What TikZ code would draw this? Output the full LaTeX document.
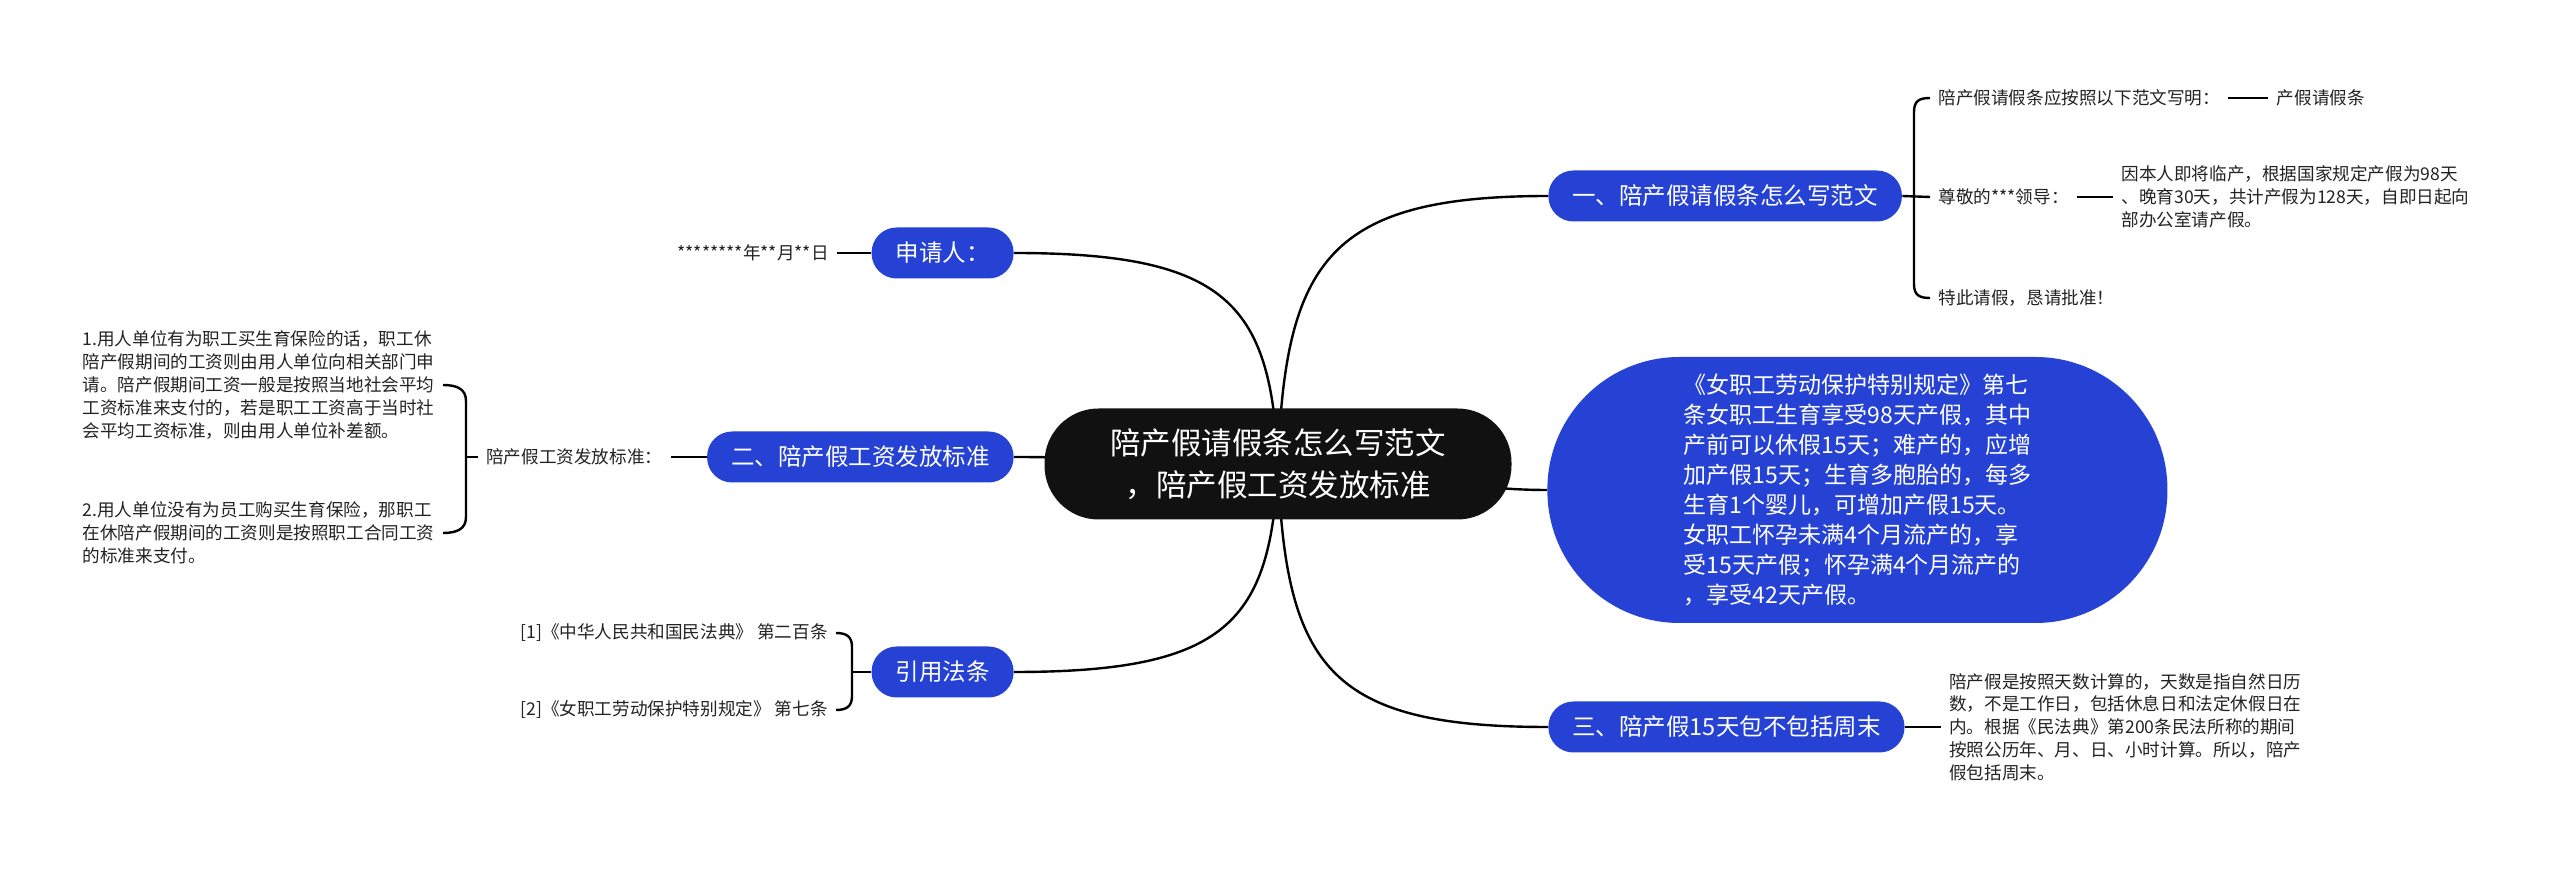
\documentclass[tikz,border=0pt]{standalone}
\usepackage{fontspec}
\setmainfont{Noto Sans CJK SC}
\usepackage{tikz}
\usetikzlibrary{backgrounds,positioning}
\definecolor{mapblue}{RGB}{38,66,212}
\definecolor{rootblack}{RGB}{17,17,17}
\definecolor{leafgray}{RGB}{34,34,34}

\begin{document}
\begin{tikzpicture}[x=0.5pt,y=0.5pt]
  \tikzstyle{root}=[fill=rootblack,text=white,rounded corners=27pt,minimum width=233.5pt,minimum height=55.5pt,align=center,font=\fontsize{15.25pt}{21pt}\selectfont]
  \tikzstyle{topic}=[fill=mapblue,text=white,rounded corners=12.5pt,minimum height=25.5pt,inner xsep=12pt,font=\fontsize{11.75pt}{14pt}\selectfont]
  \tikzstyle{big topic}=[topic,minimum width=310pt,minimum height=133pt,rounded corners=66pt,align=left,font=\fontsize{11.5pt}{15pt}\selectfont]
  \tikzstyle{leaf}=[text=leafgray,inner xsep=4pt,inner ysep=2pt,align=left,font=\fontsize{8.8pt}{11.4pt}\selectfont]
  \tikzstyle{link}=[draw=black,line width=1.2pt]

  \useasboundingbox (0,0) rectangle (2560,-870);

  \node[root] (root) at (1278,-464) {陪产假请假条怎么写范文\\，陪产假工资发放标准};

  \node[topic,anchor=west] (write) at (1548,-196) {一、陪产假请假条怎么写范文};
  \node[big topic,anchor=west] (rule) at (1547,-490) {《女职工劳动保护特别规定》第七\\条女职工生育享受98天产假，其中\\产前可以休假15天；难产的，应增\\加产假15天；生育多胞胎的，每多\\生育1个婴儿，可增加产假15天。\\女职工怀孕未满4个月流产的，享\\受15天产假；怀孕满4个月流产的\\，享受42天产假。};
  \node[topic,anchor=west] (weekend) at (1548,-727) {三、陪产假15天包不包括周末};
  \node[topic,anchor=east] (apply) at (1014,-253) {申请人：};
  \node[topic,anchor=east] (wage) at (1014,-457) {二、陪产假工资发放标准};
  \node[topic,anchor=east] (law) at (1014,-672) {引用法条};

  \node[leaf] (date) [left=17pt of apply] {********年**月**日};
  \node[leaf] (wagenote) [left=18pt of wage] {陪产假工资发放标准：};
  \node[leaf,anchor=east] (pay1) at (443,-385) {1.用人单位有为职工买生育保险的话，职工休\\陪产假期间的工资则由用人单位向相关部门申\\请。陪产假期间工资一般是按照当地社会平均\\工资标准来支付的，若是职工工资高于当时社\\会平均工资标准，则由用人单位补差额。};
  \node[leaf,anchor=east] (pay2) at (443,-533) {2.用人单位没有为员工购买生育保险，那职工\\在休陪产假期间的工资则是按照职工合同工资\\的标准来支付。};
  \node[leaf,anchor=east] (cite1) at (836,-633) {[1]《中华人民共和国民法典》 第二百条};
  \node[leaf,anchor=east] (cite2) at (836,-710) {[2]《女职工劳动保护特别规定》 第七条};

  \node[leaf,anchor=west] (form) at (1930,-98) {陪产假请假条应按照以下范文写明：};
  \node[leaf] (title) [right=20pt of form] {产假请假条};
  \node[leaf,anchor=west] (greet) at (1930,-197) {尊敬的***领导：};
  \node[leaf] (body) [right=18pt of greet] {因本人即将临产，根据国家规定产假为98天\\、晚育30天，共计产假为128天，自即日起向\\部办公室请产假。};
  \node[leaf,anchor=west] (close) at (1930,-298) {特此请假，恳请批准！};
  \node[leaf] (days) [right=18pt of weekend] {陪产假是按照天数计算的，天数是指自然日历\\数，不是工作日，包括休息日和法定休假日在\\内。根据《民法典》第200条民法所称的期间\\按照公历年、月、日、小时计算。所以，陪产\\假包括周末。};

  \begin{scope}[on background layer]
    % main branches
    \draw[link] (root.center) .. controls +(7,204) and +(-218,0) .. (write.west);
    \draw[link] (root.center) .. controls +(100,0) and +(-100,0) .. (rule.west);
    \draw[link] (root.center) .. controls +(7,-204) and +(-218,0) .. (weekend.west);
    \draw[link] (root.center) .. controls +(-7,160) and +(213,0) .. (apply.east);
    \draw[link] (root.center) .. controls +(-100,0) and +(100,0) .. (wage.east);
    \draw[link] (root.center) .. controls +(-7,-158) and +(213,0) .. (law.east);

    % left leaves
    \draw[link] (apply.west) -- (date.east);
    \draw[link] (wage.west) -- (wagenote.east);
    \draw[link] (wagenote.west) -- (466,-457);
    \draw[link] (pay1.east) .. controls +(14,0) and +(0,12) .. (466,-401) -- (466,-517) .. controls +(0,-12) and +(14,0) .. (pay2.east);
    \draw[link] (law.west) -- (852,-672);
    \draw[link] (cite1.east) .. controls +(11,0) and +(0,10) .. (852,-647) -- (852,-696) .. controls +(0,-10) and +(11,0) .. (cite2.east);

    % right leaves
    \draw[link] (write.east) -- (greet.west);
    \draw[link] (form.west) .. controls +(-11,0) and +(0,11) .. (1914,-112) -- (1914,-284) .. controls +(0,-11) and +(-11,0) .. (close.west);
    \draw[link] (form.east) -- (title.west);
    \draw[link] (greet.east) -- (body.west);
    \draw[link] (weekend.east) -- (days.west);
  \end{scope}
\end{tikzpicture}
\end{document}
